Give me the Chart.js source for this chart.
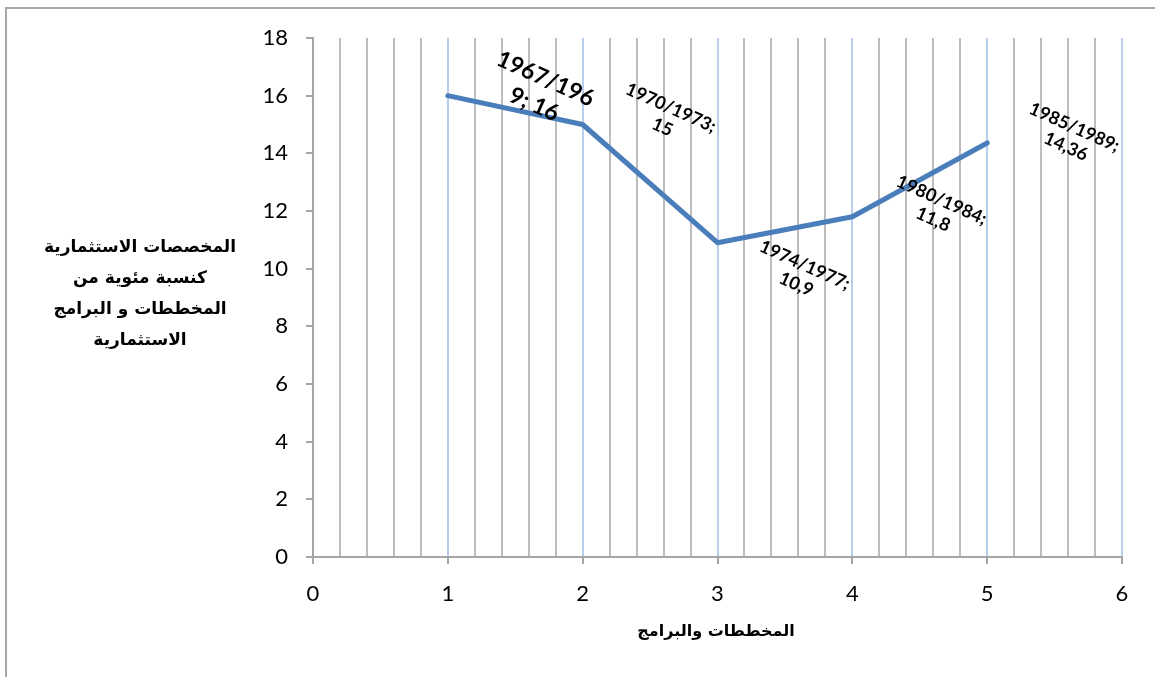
<!DOCTYPE html>
<html lang="ar">
<head>
<meta charset="utf-8">
<title>المخصصات الاستثمارية</title>
<script src="https://cdn.jsdelivr.net/npm/chart.js@4.4.1/dist/chart.umd.min.js"></script>
<style>
  html, body { margin: 0; padding: 0; background: #ffffff; }
  #wrap { width: 1155px; height: 677px; position: relative; }
</style>
</head>
<body>
<div id="wrap"><canvas id="chart" width="1155" height="677"></canvas></div>
<script>
// Plan numbers along the x axis and the investment share (%) of each plan
const planIndex = [1, 2, 3, 4, 5];
const planPeriods = ['1967/1969', '1970/1973', '1974/1977', '1980/1984', '1985/1989'];
const investmentShare = [16, 15, 10.9, 11.8, 14.36];

// Axis ranges and titles
const xTicks = [0, 1, 2, 3, 4, 5, 6];
const yTicks = [0, 2, 4, 6, 8, 10, 12, 14, 16, 18];
const xTitle = 'المخططات والبرامج';
const yTitleLines = ['المخصصات الاستثمارية', 'كنسبة مئوية من', 'المخططات و البرامج', 'الاستثمارية'];

// Label text as "period; value" with a decimal comma, split over two lines
function labelLines(i) {
  const v = String(investmentShare[i]).replace('.', ',');
  const p = planPeriods[i];
  if (i === 0) {
    // first label wraps inside the period
    const full = p + '; ' + v;
    return [full.slice(0, 8), full.slice(8)];
  }
  return [p + ';', v];
}

const AXIS_GRAY = '#a6a6a6';
const MINOR_GRAY = '#bdbdbd';
const MAJOR_BLUE = '#b9cdee';
const NUM_FONT = 'Lato, "Liberation Sans", sans-serif';

const isInt = v => Math.abs(v - Math.round(v)) < 1e-6;

// Outer frame of the chart block
const framePlugin = {
  id: 'frame',
  beforeDraw(chart) {
    const c = chart.ctx;
    c.save();
    c.fillStyle = '#ffffff';
    c.fillRect(0, 0, chart.width, chart.height);
    c.strokeStyle = AXIS_GRAY;
    c.lineWidth = 2;
    c.beginPath();
    c.moveTo(6, chart.height + 2);
    c.lineTo(6, 8);
    c.lineTo(chart.width + 2, 8);
    c.stroke();
    c.restore();
  }
};

// Axis titles, written horizontally
const titlePlugin = {
  id: 'axisTitles',
  afterDraw(chart) {
    const c = chart.ctx;
    c.save();
    c.fillStyle = '#000000';
    c.textAlign = 'center';
    c.textBaseline = 'middle';
    c.direction = 'rtl';
    c.font = 'bold 17px "DejaVu Sans", sans-serif';
    const cx = 140;
    const y0 = 248, lh = 31;
    yTitleLines.forEach((t, i) => c.fillText(t, cx, y0 + i * lh));
    c.font = 'bold 16px "DejaVu Sans", sans-serif';
    const xs = chart.scales.x;
    c.fillText(xTitle, 716, 632);
    c.restore();
  }
};

// Rotated value labels placed beside each point
const labelOffsets = [[92, -4], [84, -7], [83, 32], [85, -7], [83, -6]];
const valueLabelPlugin = {
  id: 'valueLabels',
  afterDatasetsDraw(chart) {
    const c = chart.ctx;
    const meta = chart.getDatasetMeta(0);
    c.save();
    c.fillStyle = '#000000';
    c.textAlign = 'center';
    c.textBaseline = 'middle';
    meta.data.forEach((pt, i) => {
      const lines = labelLines(i);
      const big = i === 0;
      const size = big ? 23 : 18;
      const lh = big ? 28 : 21;
      c.font = 'bold ' + size + 'px ' + NUM_FONT;
      c.save();
      c.translate(pt.x + labelOffsets[i][0], pt.y + labelOffsets[i][1]);
      c.rotate(24 * Math.PI / 180);
      lines.forEach((t, k) => c.fillText(t, 0, (k - (lines.length - 1) / 2) * lh));
      c.restore();
    });
    c.restore();
  }
};

new Chart(document.getElementById('chart'), {
  type: 'line',
  data: {
    datasets: [{
      data: planIndex.map((x, i) => ({ x: x, y: investmentShare[i] })),
      borderColor: '#4a7ebb',
      borderWidth: 5,
      pointRadius: 0,
      pointHoverRadius: 0,
      tension: 0,
      fill: false,
      borderJoinStyle: 'round',
      borderCapStyle: 'round'
    }]
  },
  options: {
    responsive: false,
    animation: false,
    events: [],
    layout: { padding: { left: 0, top: 38, right: 33, bottom: 0 } },
    plugins: { legend: { display: false }, tooltip: { enabled: false }, title: { display: false } },
    scales: {
      x: {
        type: 'linear',
        min: xTicks[0],
        max: xTicks[xTicks.length - 1],
        afterFit(scale) { scale.height = 120; },
        ticks: {
          stepSize: 0.2,
          autoSkip: false,
          maxRotation: 0,
          padding: 17,
          color: '#000000',
          font: { family: NUM_FONT, size: 22 },
          callback: v => (isInt(v) && xTicks.includes(Math.round(v))) ? String(Math.round(v)) : ''
        },
        grid: {
          drawOnChartArea: true,
          drawTicks: true,
          tickLength: 7,
          lineWidth: 2,
          color: ctx => {
            const v = ctx.tick ? ctx.tick.value : 0;
            if (Math.abs(v) < 1e-6) return AXIS_GRAY;
            return isInt(v) ? MAJOR_BLUE : MINOR_GRAY;
          },
          tickColor: ctx => {
            const v = ctx.tick ? ctx.tick.value : 0;
            return isInt(v) ? AXIS_GRAY : 'rgba(0,0,0,0)';
          }
        },
        border: { display: true, color: AXIS_GRAY, width: 2 }
      },
      y: {
        min: yTicks[0],
        max: yTicks[yTicks.length - 1],
        afterFit(scale) { scale.width = 313; },
        afterBuildTicks(scale) { scale.ticks = yTicks.map(v => ({ value: v })); },
        ticks: {
          padding: 18,
          color: '#000000',
          font: { family: NUM_FONT, size: 22 }
        },
        grid: {
          drawOnChartArea: false,
          drawTicks: true,
          tickLength: 7,
          lineWidth: 2,
          tickColor: AXIS_GRAY
        },
        border: { display: true, color: AXIS_GRAY, width: 2 }
      }
    }
  },
  plugins: [framePlugin, titlePlugin, valueLabelPlugin]
});
</script>
</body>
</html>
